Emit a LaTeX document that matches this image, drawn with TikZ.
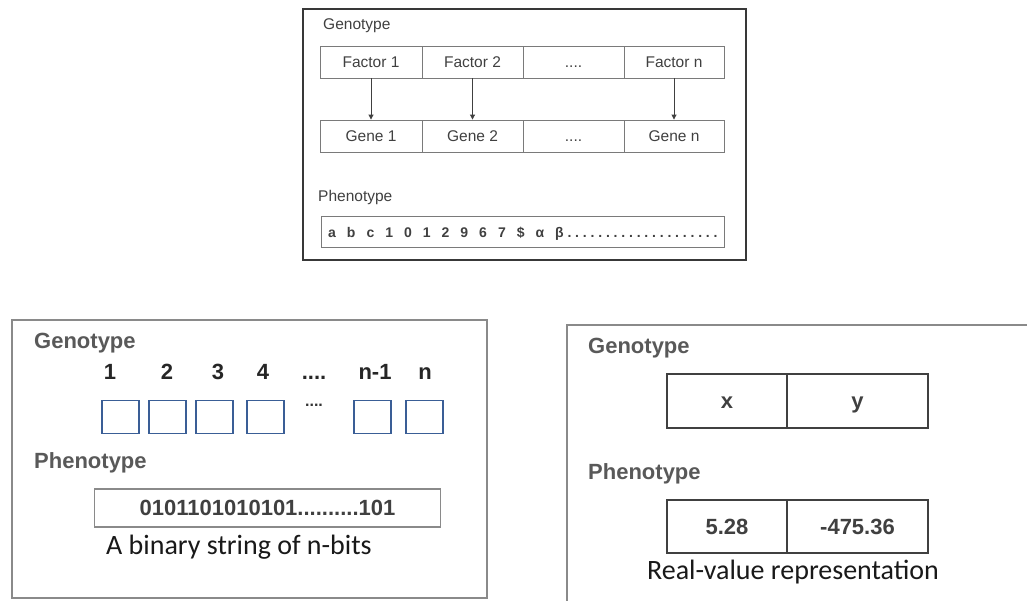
\documentclass[tikz,border=0pt]{standalone}
\usepackage{fontspec}
\setmainfont{Liberation Sans}
\newfontfamily\calibrifont{Carlito}
\usetikzlibrary{arrows.meta}
\definecolor{txtgray}{HTML}{404040}
\definecolor{lblgray}{HTML}{595959}
\definecolor{framedark}{HTML}{383838}
\definecolor{cellgray}{HTML}{7A7A7A}
\definecolor{boxgray}{HTML}{8A8A8A}
\definecolor{bitblue}{HTML}{3A5E96}
\newcommand{\fs}[1]{\fontsize{#1}{#1}\selectfont}
\newcommand{\gap}{\hspace{11pt}}
\tikzset{
  smalltxt/.style={text=txtgray, font=\fs{15.5}, inner sep=0pt},
  cell/.style={draw=cellgray, line width=0.9pt, inner sep=0pt, text=txtgray, font=\fs{15.5},
               text height=11.1pt, text depth=0pt},
  frame/.style={draw=framedark, line width=2.4pt, fill=white},
  panel/.style={draw=boxgray, line width=1.8pt, fill=white},
  biglabel/.style={text=lblgray, font=\bfseries\fs{22}, inner sep=0pt, anchor=west},
  bitnum/.style={text=black!85, font=\bfseries\fs{22}, inner sep=0pt, text height=15.8pt, text depth=0pt},
  bitbox/.style={draw=bitblue, line width=1.6pt, minimum width=37pt, minimum height=33pt, inner sep=0pt},
  valcell/.style={draw=black!75, line width=1.2pt, inner sep=0pt, text=txtgray, font=\bfseries\fs{22},
                  text height=15.8pt, text depth=0pt},
  caption/.style={text=black!90, font=\calibrifont\fs{28}, inner sep=0pt},
  maparrow/.style={draw=black!75, line width=0.9pt, -{Triangle[width=5pt,length=5pt]}}
}
\begin{document}
\begin{tikzpicture}[x=1pt, y=-1pt]
\useasboundingbox (0,0) rectangle (1027,600);
\clip (0,0) rectangle (1027,600);
\fill[white] (0,0) rectangle (1027,600);

% ---- general scheme: factors mapped onto genes ----
\draw[frame] (303,9) rectangle (746,260);
\node[smalltxt, anchor=west] (gt) at (323,26) {Genotype};
\node[cell, minimum width=102pt, minimum height=32pt] (f1) at (371,62) {Factor 1};
\node[cell, minimum width=101pt, minimum height=32pt] (f2) at (472.5,62) {Factor 2};
\node[cell, minimum width=101pt, minimum height=32pt] (f3) at (573.5,62) {....};
\node[cell, minimum width=100pt, minimum height=32pt] (fn) at (674,62) {Factor n};
\node[cell, minimum width=102pt, minimum height=32pt] (g1) at (371,136) {Gene 1};
\node[cell, minimum width=101pt, minimum height=32pt] (g2) at (472.5,136) {Gene 2};
\node[cell, minimum width=101pt, minimum height=32pt] (g3) at (573.5,136) {....};
\node[cell, minimum width=100pt, minimum height=32pt] (gn) at (674,136) {Gene n};
\draw[maparrow] (f1.south) -- (g1.north);
\draw[maparrow] (f2.south) -- (g2.north);
\draw[maparrow] (fn.south) -- (gn.north);
\node[smalltxt, anchor=west] (pt) at (318,197) {Phenotype};
\node[cell, minimum width=403pt, minimum height=31pt] (ps) at (522.5,231.5) {};
\node[text=txtgray, font=\bfseries\fs{14}, inner sep=0pt, anchor=base west] (pstr) at (328,237)
  {a\gap b\gap c\gap 1\gap 0\gap 1\gap 2\gap 9\gap 6\gap 7\gap \$\gap α\gap β\foreach \i in {1,...,20}{\hspace{3.8pt}.}};

% ---- binary representation ----
\draw[panel] (12,320) rectangle (487,598);
\node[biglabel] (bgt) at (34,343) {Genotype};
\node[bitnum] (n1) at (110,372) {1};
\node[bitnum] (n2) at (167,372) {2};
\node[bitnum] (n3) at (218,372) {3};
\node[bitnum] (n4) at (263,372) {4};
\node[bitnum] (ndots) at (314,372) {....};
\node[bitnum] (nm) at (375,372) {n-1};
\node[bitnum] (nn) at (425,372) {n};
\node[bitbox] (b1) at (120.5,417) {};
\node[bitbox] (b2) at (167.5,417) {};
\node[bitbox] (b3) at (214.5,417) {};
\node[bitbox] (b4) at (265.5,417) {};
\node[text=black!80, font=\bfseries\fs{16}, inner sep=0pt] (bdots) at (314,405) {....};
\node[bitbox] (b5) at (372.5,417) {};
\node[bitbox] (b6) at (424.5,417) {};
\node[biglabel] (bpt) at (34,463) {Phenotype};
\node[draw=boxgray, line width=1.6pt, minimum width=346pt, minimum height=38pt, inner sep=0pt,
      text=txtgray, font=\bfseries\fs{22}, text height=15.8pt, text depth=0pt] (bstr) at (267.5,508) {0101101010101..........101};
\node[caption, anchor=west] (bcap) at (106,547) {A binary string of n-bits};

% ---- real-valued representation ----
\draw[panel] (567,325) rectangle (1040,640);
\node[biglabel] (rgt) at (588,348) {Genotype};
\node[valcell, minimum width=120pt, minimum height=54pt] (rx) at (727,401) {x};
\node[valcell, minimum width=141pt, minimum height=54pt] (ry) at (857.5,401) {y};
\node[biglabel] (rpt) at (588,474) {Phenotype};
\node[valcell, minimum width=120pt, minimum height=53pt] (rv1) at (727,526.5) {5.28};
\node[valcell, minimum width=141pt, minimum height=53pt] (rv2) at (857.5,526.5) {-475.36};
\node[caption] (rcap) at (793,572) {Real-value representation};
\end{tikzpicture}
\end{document}
